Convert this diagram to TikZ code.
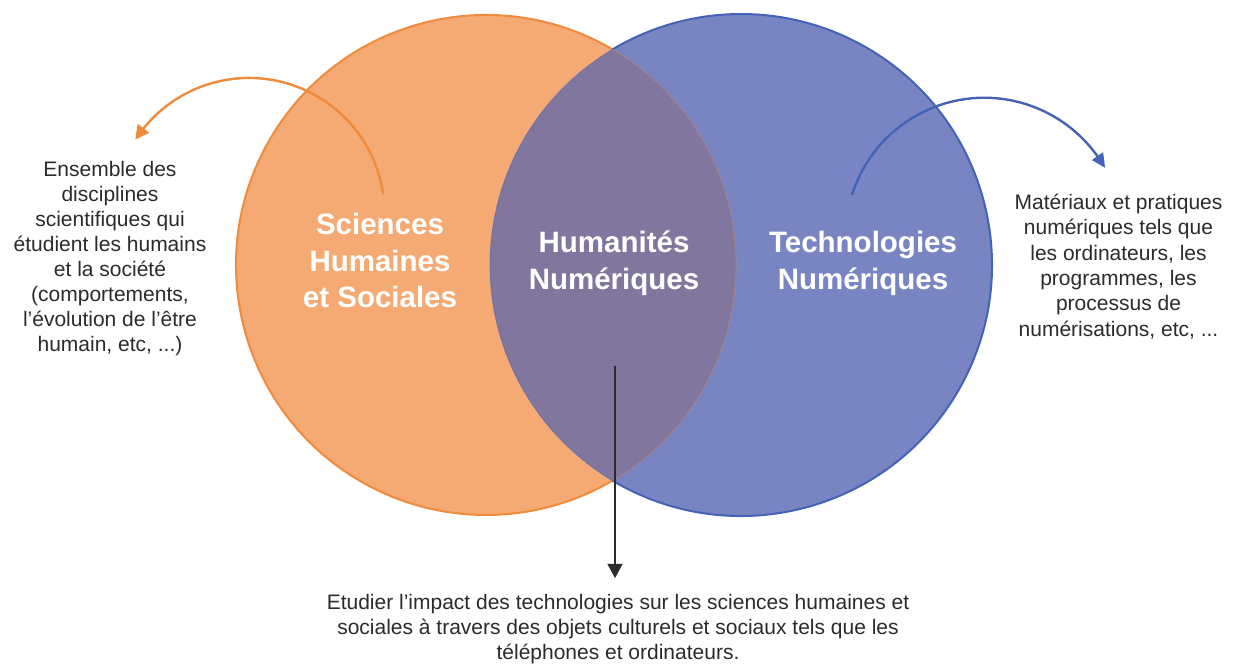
\documentclass[tikz,border=0pt]{standalone}
\usepackage{fontspec}
\setmainfont{Liberation Sans}
\usetikzlibrary{arrows.meta,bending}
\definecolor{orfill}{HTML}{F5AA74}
\definecolor{orline}{HTML}{F08A3C}
\definecolor{blfill}{HTML}{7885C2}
\definecolor{blline}{HTML}{4462B6}
\definecolor{ovfill}{HTML}{80769E}
\definecolor{txt}{HTML}{2B2B2B}
\begin{document}
\begin{tikzpicture}[x=1pt,y=1pt,
  biglabel/.style={font=\fontsize{29.5}{36.5}\selectfont\bfseries, text=white, align=center, inner sep=0pt},
  smalltext/.style={font=\fontsize{21}{25}\selectfont, text=txt, align=center, inner sep=0pt},
  orarrow/.style={orline, line width=2.4pt, -{Triangle[length=14pt,width=14pt,bend]}},
  blarrow/.style={blline, line width=2.4pt, -{Triangle[length=14pt,width=13pt,bend]}},
  blackarrow/.style={txt, line width=1.2pt, -{Triangle[length=14pt,width=15pt]}}]
\useasboundingbox (0,0) rectangle (1236,666);
\fill[white] (0,0) rectangle (1236,666);
% circles
\fill[orfill] (486,401) circle[radius=250];
\fill[blfill] (741,401) circle[radius=251];
\begin{scope}
  \clip (486,401) circle[radius=250];
  \fill[ovfill] (741,401) circle[radius=251];
\end{scope}
% outlines
\draw[orline, line width=2pt] (486,401) ++(59.6:250) arc[start angle=59.6, end angle=300.4, radius=250];
\draw[blline, line width=2pt] (741,401) ++(-120.8:251) arc[start angle=-120.8, end angle=120.8, radius=251];
\draw[orline, line width=1.2pt, opacity=0.3] (486,401) ++(-59.6:250) arc[start angle=-59.6, end angle=59.6, radius=250];
\draw[blline, line width=1.2pt, opacity=0.3] (741,401) ++(120.8:251) arc[start angle=120.8, end angle=239.2, radius=251];
% labels
\node[biglabel] (shs) at (380,405.5) {Sciences\\Humaines\\et Sociales};
\node[biglabel] (hn) at (614,402.5) {Humanités\\Numériques};
\node[biglabel] (tn) at (863,402.5) {Technologies\\Numériques};
% texts
\node[smalltext] (ltext) at (110,407) {Ensemble des\\disciplines\\scientifiques qui\\étudient les humains\\et la société\\(comportements,\\l’évolution de l’être\\humain, etc, ...)};
\node[smalltext, font=\fontsize{21}{25.4}\selectfont] (rtext) at (1118.5,399.5) {Matériaux et pratiques\\numériques tels que\\les ordinateurs, les\\programmes, les\\processus de\\numérisations, etc, ...};
\node[smalltext] (btext) at (618,37) {Etudier l’impact des technologies sur les sciences humaines et\\sociales à travers des objets culturels et sociaux tels que les\\téléphones et ordinateurs.};
% arrows
\coordinate (oastart) at (383.2,471.4);
\coordinate (bastart) at (852,471);
\coordinate (hnstart) at (615,300);
\coordinate (btip) at (615,88);
\draw[orarrow] (oastart) arc[start angle=8, end angle=147, radius=135.5];
\draw[blarrow] (bastart) arc[start angle=162.6, end angle=29.6, radius=138.7];
\draw[blackarrow] (hnstart) -- (btip);
\end{tikzpicture}
\end{document}
